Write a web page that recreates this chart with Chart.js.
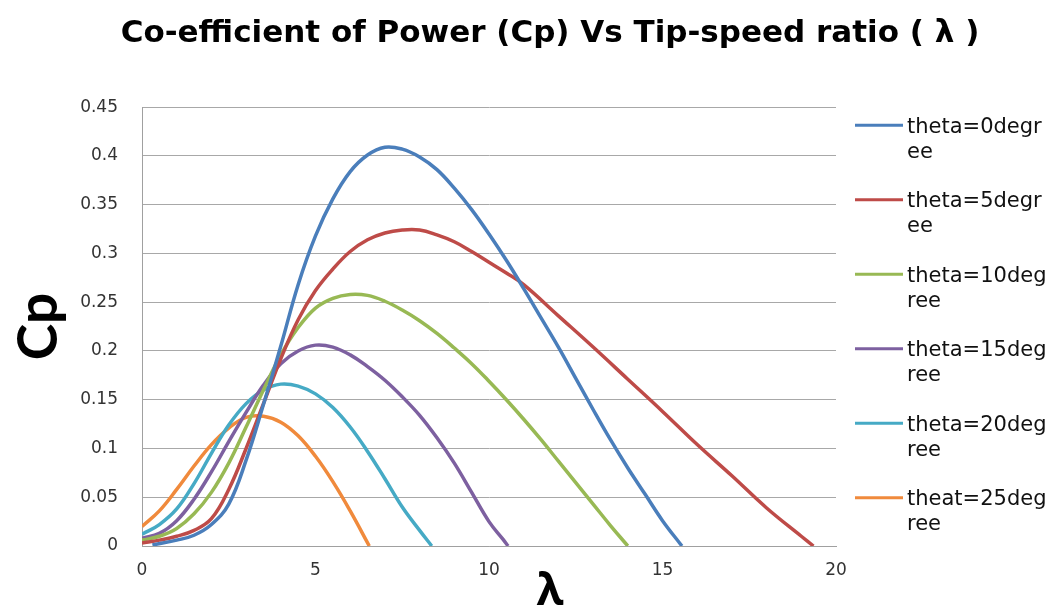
<!DOCTYPE html>
<html>
<head>
<meta charset="utf-8">
<title>Cp vs tip-speed ratio</title>
<script src="https://cdn.jsdelivr.net/npm/chart.js@4.4.1/dist/chart.umd.min.js"></script>
<style>
  html, body { margin: 0; padding: 0; background: #fff; }
  #wrap { position: relative; width: 1056px; height: 609px; }
</style>
</head>
<body>
<div id="wrap"><canvas id="cpChart"></canvas></div>
<script>
// series names and colours
const thetaLabels = ['theta=0degree', 'theta=5degree', 'theta=10degree', 'theta=15degree', 'theta=20degree', 'theat=25degree'];
const lineColors  = ['#4a7ebb', '#be4b48', '#98b954', '#7d60a0', '#46aac5', '#f08a3c'];

// tip-speed ratio (lambda) / power coefficient pairs, one pair of arrays per pitch angle
const lam0  = [0.3, 1, 1.5, 2, 2.5, 3, 3.5, 4, 4.5, 5, 5.5, 6, 6.5, 7, 7.5, 8, 8.5, 9, 9.5, 10, 10.5, 11, 11.5, 12, 12.5, 13, 13.5, 14, 14.5, 15, 15.56];
const cp0   = [0.001, 0.006, 0.011, 0.022, 0.043, 0.088, 0.145, 0.205, 0.268, 0.318, 0.356, 0.384, 0.401, 0.409, 0.407, 0.399, 0.386, 0.367, 0.345, 0.320, 0.293, 0.264, 0.234, 0.204, 0.172, 0.140, 0.109, 0.080, 0.053, 0.026, 0];

const lam5  = [0, 0.5, 1, 1.5, 2, 2.5, 3, 3.5, 4, 4.5, 5, 5.5, 6, 6.5, 7, 7.5, 8, 8.5, 9, 9.5, 10, 10.5, 11, 12, 13, 14, 15, 16, 17, 18, 19, 19.35];
const cp5   = [0.003, 0.006, 0.010, 0.016, 0.028, 0.058, 0.100, 0.146, 0.192, 0.232, 0.262, 0.284, 0.302, 0.314, 0.321, 0.324, 0.324, 0.319, 0.312, 0.302, 0.291, 0.280, 0.268, 0.236, 0.204, 0.171, 0.138, 0.104, 0.072, 0.039, 0.010, 0];

const lam10 = [0, 0.5, 1, 1.5, 2, 2.5, 3, 3.5, 4, 4.5, 5, 5.5, 6, 6.5, 7, 7.5, 8, 8.5, 9, 9.5, 10, 10.5, 11, 11.5, 12, 12.5, 13, 13.5, 14];
const cp10  = [0.006, 0.010, 0.018, 0.033, 0.055, 0.085, 0.122, 0.160, 0.196, 0.224, 0.244, 0.254, 0.258, 0.257, 0.251, 0.242, 0.231, 0.218, 0.203, 0.187, 0.169, 0.150, 0.130, 0.109, 0.087, 0.065, 0.043, 0.021, 0];

const lam15 = [0, 0.5, 1, 1.5, 2, 2.5, 3, 3.5, 4, 4.5, 5, 5.5, 6, 6.5, 7, 7.5, 8, 8.5, 9, 9.5, 10, 10.4, 10.55];
const cp15  = [0.008, 0.013, 0.026, 0.048, 0.076, 0.107, 0.137, 0.165, 0.187, 0.200, 0.206, 0.204, 0.196, 0.184, 0.170, 0.153, 0.134, 0.111, 0.085, 0.055, 0.025, 0.007, 0];

const lam20 = [0, 0.5, 1, 1.5, 2, 2.5, 3, 3.5, 4, 4.5, 5, 5.5, 6, 6.5, 7, 7.5, 8, 8.35];
const cp20  = [0.012, 0.022, 0.038, 0.064, 0.095, 0.124, 0.146, 0.160, 0.166, 0.164, 0.156, 0.142, 0.122, 0.097, 0.069, 0.040, 0.016, 0];

const lam25 = [0, 0.5, 1, 1.5, 2, 2.5, 3, 3.5, 4, 4.5, 5, 5.5, 6, 6.55];
const cp25  = [0.020, 0.036, 0.058, 0.082, 0.104, 0.121, 0.132, 0.133, 0.127, 0.113, 0.092, 0.066, 0.036, 0];

const lambdaSets = [lam0, lam5, lam10, lam15, lam20, lam25];
const cpSets     = [cp0, cp5, cp10, cp15, cp20, cp25];

const titleText = 'Co-efficient of Power (Cp) Vs Tip-speed ratio ( \u03bb )';
const xTitle = '\u03bb';
const yTitle = 'Cp';

// split a label into lines no wider than maxW (breaks anywhere, like the spreadsheet legend)
function wrapText(ctx, text, maxW) {
  const lines = [];
  let cur = '';
  for (const ch of text) {
    if (cur && ctx.measureText(cur + ch).width > maxW) {
      lines.push(cur);
      cur = ch;
    } else {
      cur += ch;
    }
  }
  if (cur) lines.push(cur);
  return lines;
}

// legend on the right, wrapped labels
const sideLegend = {
  id: 'sideLegend',
  afterDraw(chart) {
    const {ctx, chartArea} = chart;
    const x0 = chartArea.right + 19;
    ctx.save();
    ctx.font = '21px "DejaVu Sans"';
    ctx.textBaseline = 'middle';
    ctx.textAlign = 'left';
    chart.data.datasets.forEach((ds, i) => {
      const y = chartArea.top + 20 + i * 74.5;
      ctx.strokeStyle = ds.borderColor;
      ctx.lineWidth = 3;
      ctx.beginPath();
      ctx.moveTo(x0, y - 2);
      ctx.lineTo(x0 + 48, y - 2);
      ctx.stroke();
      ctx.fillStyle = '#111';
      wrapText(ctx, ds.label, 143).forEach((t, k) => ctx.fillText(t, x0 + 52, y + k * 25));
    });
    ctx.restore();
  }
};

// big bold axis titles
const axisLabels = {
  id: 'axisLabels',
  afterDraw(chart) {
    const {ctx, chartArea} = chart;
    ctx.save();
    ctx.fillStyle = '#000';
    ctx.textAlign = 'center';
    ctx.textBaseline = 'middle';
    ctx.font = 'bold 55px Lato';
    ctx.translate(39, (chartArea.top + chartArea.bottom) / 2);
    ctx.rotate(-Math.PI / 2);
    ctx.fillText(yTitle, 0, 0);
    ctx.restore();

    ctx.save();
    ctx.fillStyle = '#000';
    ctx.textAlign = 'center';
    ctx.textBaseline = 'middle';
    ctx.font = 'bold 44px "Open Sans"';
    const tb = chart.titleBlock;
    ctx.fillText(xTitle, (tb.left + tb.right) / 2, 592);
    ctx.restore();
  }
};

const datasets = thetaLabels.map((label, i) => ({
  label,
  data: lambdaSets[i].map((x, j) => ({x, y: cpSets[i][j]})),
  borderColor: lineColors[i],
  backgroundColor: lineColors[i],
  borderWidth: 3.5,
  pointRadius: 0,
  fill: false,
  tension: 0.4
}));

const tickFont = {family: 'DejaVu Sans', size: 17};

new Chart(document.getElementById('cpChart'), {
  type: 'line',
  data: {datasets},
  options: {
    responsive: true,
    maintainAspectRatio: false,
    animation: false,
    layout: {padding: {left: 44, right: 0, top: 0, bottom: 0}},
    scales: {
      x: {
        type: 'linear',
        min: 0, max: 20,
        ticks: {stepSize: 5, font: tickFont, color: '#333', padding: 14},
        grid: {display: false, drawTicks: false},
        border: {color: '#a0a0a0', width: 1},
        afterFit: s => { s.height = 63; }
      },
      y: {
        min: 0, max: 0.45,
        ticks: {
          stepSize: 0.05, font: tickFont, color: '#333', padding: 24,
          callback: v => String(+v.toFixed(2))
        },
        grid: {color: '#a8a8a8', lineWidth: 1, drawTicks: false},
        border: {color: '#a0a0a0', width: 1},
        afterFit: s => { s.width = 98; }
      },
      // keeps room on the right for the legend
      legendSpace: {
        type: 'linear',
        position: 'right',
        ticks: {display: false},
        grid: {display: false},
        border: {display: false},
        afterFit: s => { s.width = 220; }
      }
    },
    plugins: {
      legend: {display: false},
      tooltip: {enabled: false},
      title: {
        display: true,
        text: titleText,
        color: '#000',
        font: {family: 'DejaVu Sans', weight: 'bold', size: 31},
        padding: {top: 15, bottom: 55}
      }
    }
  },
  plugins: [sideLegend, axisLabels]
});
</script>
</body>
</html>
